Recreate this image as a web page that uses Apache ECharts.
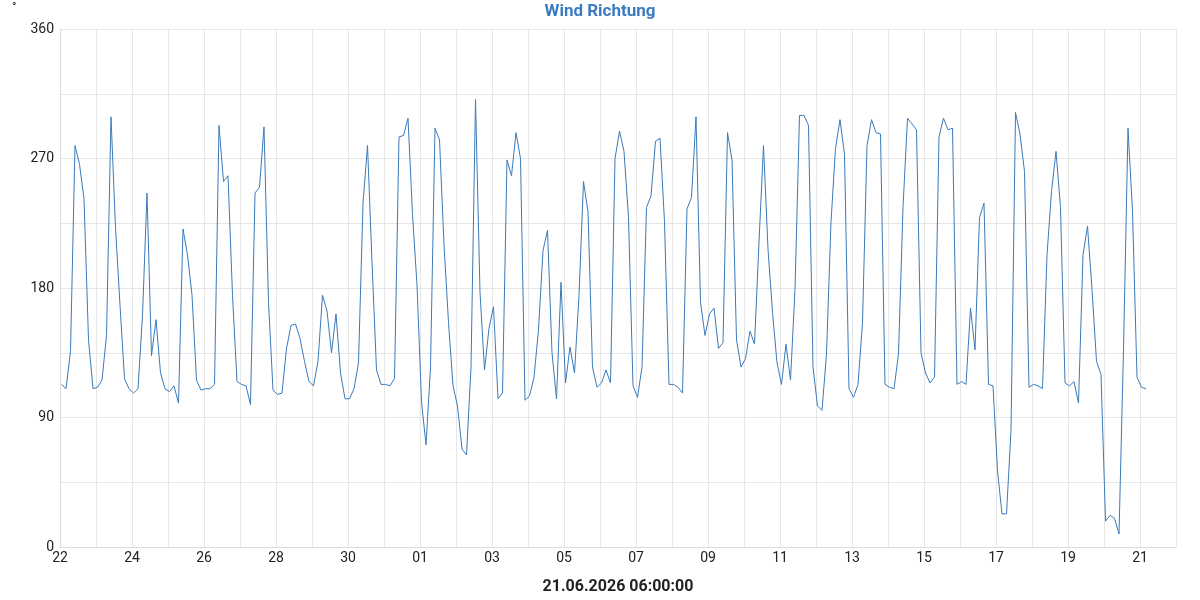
<!DOCTYPE html>
<html>
<head>
<meta charset="utf-8">
<title>Wind Richtung</title>
<script src="https://cdn.jsdelivr.net/npm/echarts@6/dist/echarts.min.js"></script>
<style>
  html, body { margin: 0; padding: 0; background: #fff; }
  #chart { width: 1200px; height: 600px; }
</style>
</head>
<body>
<div id="chart"></div>
<script>
// wind direction in degrees, one reading every 3 hours
const START = Date.UTC(2026, 4, 22, 1, 0, 0)
const STEP = 3 * 3600 * 1000
const DAY = 24 * 3600 * 1000
const AXIS_MIN = Date.UTC(2026, 4, 22)
const AXIS_MAX = Date.UTC(2026, 5, 22)
const NOW_LABEL = '21.06.2026 06:00:00'
const Y_TICKS = [0, 90, 180, 270, 360]

const direction = [
  113, 110, 136, 279, 266, 242, 144, 110, 111, 116,
  147, 299, 222, 168, 117, 110, 107, 110, 161, 246,
  133, 158, 121, 110, 108, 112, 100, 221, 203, 175,
  116, 109, 110, 110, 113, 293, 254, 258, 175, 115,
  113, 112, 99, 246, 250, 292, 170, 109, 106, 107,
  138, 154, 155, 145, 129, 115, 112, 129, 175, 164,
  135, 162, 121, 103, 103, 110, 128, 239, 279, 198,
  123, 113, 113, 112, 117, 285, 286, 298, 231, 182,
  101, 71, 125, 291, 283, 210, 156, 112, 98, 68,
  64, 125, 311, 177, 123, 152, 167, 103, 107, 269,
  258, 288, 270, 102, 105, 118, 151, 206, 220, 135,
  103, 184, 114, 139, 121, 175, 254, 233, 125, 111,
  114, 123, 114, 270, 289, 275, 229, 112, 104, 125,
  236, 244, 282, 284, 226, 113, 113, 111, 107, 235,
  243, 299, 170, 147, 162, 166, 138, 142, 288, 269,
  144, 125, 131, 150, 141, 212, 279, 207, 163, 128,
  113, 141, 116, 179, 300, 300, 293, 125, 98, 95,
  134, 226, 277, 297, 273, 110, 104, 113, 156, 279,
  297, 288, 287, 113, 111, 110, 134, 236, 298, 294,
  290, 135, 121, 114, 118, 285, 298, 290, 291, 113,
  115, 113, 166, 137, 229, 239, 113, 112, 53, 23,
  23, 81, 302, 287, 261, 111, 113, 112, 110, 203,
  247, 275, 236, 114, 112, 115, 100, 203, 223, 179,
  129, 120, 18, 22, 20, 9, 137, 291, 233, 118,
  111, 110,
]

const times = direction.map((_, i) => START + i * STEP)

const chart = echarts.init(document.getElementById('chart'), null, { renderer: 'canvas' })

chart.setOption({
  animation: false,
  textStyle: { fontFamily: 'Roboto, sans-serif' },
  title: [
    {
      text: 'Wind Richtung', left: 'center', top: -2,
      textStyle: { color: '#3b7bbf', fontSize: 17, fontWeight: 'bold' },
    },
    {
      text: '°', left: 7, top: -3,
      textStyle: { color: '#222', fontSize: 12, fontWeight: 'normal' },
    },
  ],
  grid: { left: 60, right: 24, top: 29, bottom: 48 },
  xAxis: {
    type: 'value',
    min: AXIS_MIN, max: AXIS_MAX, interval: DAY,
    name: NOW_LABEL, nameLocation: 'middle', nameGap: 32,
    nameTextStyle: { color: '#222', fontSize: 16, fontWeight: 'bold' },
    axisLine: { lineStyle: { color: '#dcdcdc' } },
    axisTick: { show: false },
    axisLabel: {
      color: '#222', fontSize: 14, margin: 4,
      formatter: (v) => {
        const k = Math.round((v - AXIS_MIN) / DAY)
        if (k % 2) return ''
        const d = new Date(v).getUTCDate()
        return (d < 10 ? '0' : '') + d
      },
    },
    splitLine: { show: true, lineStyle: { color: '#e6e6e6' } },
  },
  yAxis: {
    type: 'value', min: 0, max: 360, interval: 45,
    axisLine: { show: true, lineStyle: { color: '#dcdcdc' } },
    axisTick: { show: false },
    axisLabel: {
      color: '#222', fontSize: 14, margin: 6,
      formatter: (v) => (Y_TICKS.includes(v) ? String(v) : ''),
    },
    splitLine: { lineStyle: { color: '#e6e6e6' } },
  },
  series: [{
    type: 'line',
    showSymbol: false,
    lineStyle: { color: '#3a7ab9', width: 1 },
    data: times.map((t, i) => [t, direction[i]]),
  }],
})
</script>
</body>
</html>
